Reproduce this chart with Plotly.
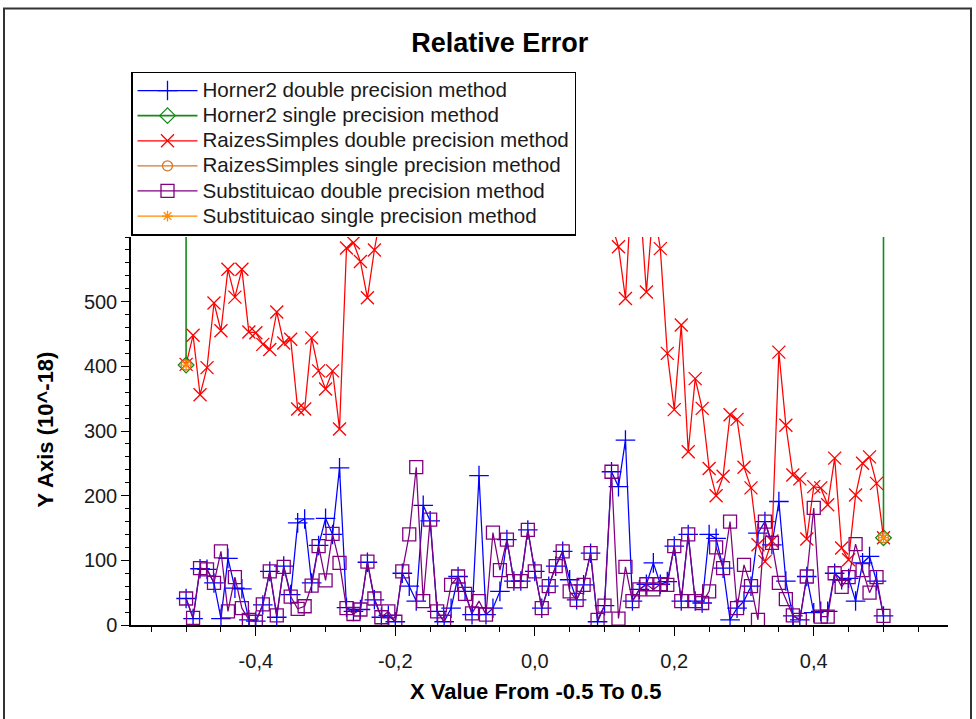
import plotly.graph_objects as go

# ---------------- data ----------------
x_values = [round(-0.5 + 0.01 * i, 2) for i in range(101)]

horner2_double = [41, 10, 87, 86, 65, 10, 103, 57, 56, 8,
                  6, 31, 83, 12, 91, 47, 158, 164, 65, 123,
                  165, 140, 243, 27, 21, 24, 97, 39, 12, 15,
                  5, 80, 60, 37, 185, 161, 21, 5, 26, 75,
                  52, 16, 231, 16, 26, 52, 132, 68, 68, 147,
                  83, 26, 60, 91, 114, 70, 39, 62, 111, 5,
                  30, 237, 214, 286, 37, 55, 63, 96, 63, 67,
                  122, 37, 140, 37, 34, 140, 134, 88, 8, 26,
                  37, 60, 142, 160, 124, 191, 68, 14, 8, 75,
                  19, 21, 21, 80, 70, 72, 37, 96, 106, 68, 14]

raizes_double = [403, 448, 356, 398, 498, 455, 550, 507, 550, 453,
                 452, 434, 426, 484, 436, 442, 334, 334, 444, 393,
                 365, 393, 303, 583, 591, 562, 506, 580, 640, 760,
                 820, 700, 880, 950, 780, 900, 1050, 870, 990, 1120,
                 960, 1080, 1200, 1010, 1150, 1280, 1090, 1230, 1350, 1170,
                 1300, 1220, 1100, 1250, 1030, 1140, 960, 1060, 880, 920,
                 760, 620, 585, 505, 700, 670, 515, 650, 582, 420,
                 333, 464, 268, 381, 335, 242, 200, 230, 325, 318,
                 244, 212, 124, 98, 130, 422, 309, 232, 226, 133,
                 214, 212, 186, 258, 119, 101, 201, 250, 260, 219, 135]

subst_double = [41, 11, 88, 86, 65, 114, 21, 74, 26, 8,
                5, 32, 83, 15, 90, 44, 25, 29, 61, 122,
                69, 141, 96, 26, 17, 24, 98, 41, 12, 21,
                5, 83, 140, 244, 37, 163, 21, 5, 62, 75,
                48, 18, 37, 16, 143, 85, 132, 68, 68, 147,
                83, 26, 60, 91, 114, 52, 39, 62, 111, 8,
                30, 237, 10, 90, 37, 55, 63, 55, 63, 62,
                122, 37, 140, 37, 34, 52, 120, 88, 160, 26,
                93, 60, 8, 160, 127, 65, 40, 15, 8, 75,
                181, 13, 13, 80, 59, 74, 125, 85, 50, 74, 14]

single_x = [-0.5, -0.49, 0.49, 0.5]
horner2_single = [402, 1.0e8, 1.0e8, 135]
raizes_single = [402, None, None, 135]
subst_single = [402, None, None, 135]

series_names = [
    "Horner2 double precision method",
    "Horner2 single precision method",
    "RaizesSimples double precision method",
    "RaizesSimples single precision method",
    "Substituicao double precision method",
    "Substituicao single precision method",
]

x_tick_vals = [-0.4, -0.2, 0.0, 0.2, 0.4]
x_tick_text = ["-0,4", "-0,2", "0,0", "0,2", "0,4"]
y_tick_vals = [0, 100, 200, 300, 400, 500]
y_tick_text = ["0", "100", "200", "300", "400", "500"]

X_RANGE = [-0.579, 0.5925]
Y_RANGE = [0, 600]

FONT = "Liberation Sans, Arial, sans-serif"

fig = go.Figure()

def add(name, xs, ys, color, symbol, size, mlw=1.3, lw=1.25):
    fig.add_trace(go.Scatter(
        x=xs, y=ys, name="<span style='font-size:20.6px'>" + name + "</span>",
        mode="lines+markers",
        line=dict(color=color, width=lw),
        marker=dict(symbol=symbol, size=size, color=color,
                    line=dict(color=color, width=mlw)),
        connectgaps=False,
    ))

add(series_names[0], x_values, horner2_double, "#0000ff", "cross-thin", 14)
add(series_names[1], single_x, horner2_single, "#168a16", "diamond-open", 12, lw=1.6)
add(series_names[2], x_values, raizes_double, "#ff0000", "x-thin", 13)
add(series_names[3], single_x, raizes_single, "#d2782d", "circle-open", 10)
add(series_names[4], x_values, subst_double, "#800080", "square-open", 13)
add(series_names[5], single_x, subst_single, "#ff8c00", "asterisk-open", 9)

axis_common = dict(showgrid=False, zeroline=False, linecolor="black", tickcolor="black")

fig.update_layout(
    width=976, height=719, autosize=False,
    margin=dict(l=131, r=28, t=237, b=94, pad=0),
    paper_bgcolor="white", plot_bgcolor="white",
    font=dict(family=FONT, size=20, color="#1a1a1a"),
    title=dict(text="Relative Error", x=0.512, xref="container", xanchor="center",
               y=1 - 43 / 719, yref="container", yanchor="middle",
               font=dict(family=FONT, size=27, color="black", weight="bold")),
    xaxis=dict(range=X_RANGE, tickmode="array", tickvals=x_tick_vals, ticktext=x_tick_text,
               ticks="outside", ticklen=9, tickwidth=1.3, showline=True, linewidth=1.5,
               minor=dict(ticks="outside", ticklen=5, dtick=0.05, tick0=0, tickcolor="black", tickwidth=1.2),
               tickfont=dict(size=20), ticklabelstandoff=8, **axis_common),
    xaxis2=dict(range=X_RANGE, overlaying="x", side="top", anchor="y", tickmode="array",
                tickvals=x_tick_vals, ticks="inside", ticklen=6, tickwidth=1.2, showticklabels=False,
                showline=True, linewidth=1.5,
                minor=dict(ticks="inside", ticklen=4, dtick=0.05, tick0=0, tickcolor="black", tickwidth=1.2),
                **axis_common),
    xaxis3=dict(range=X_RANGE, overlaying="x", side="bottom", anchor="y", tickmode="array",
                tickvals=x_tick_vals, ticks="inside", ticklen=5, tickwidth=1.3, showticklabels=False,
                showline=False,
                minor=dict(ticks="inside", ticklen=3, dtick=0.05, tick0=0, tickcolor="black", tickwidth=1.2),
                **axis_common),
    yaxis=dict(range=Y_RANGE, tickmode="array", tickvals=y_tick_vals, ticktext=y_tick_text,
               ticks="outside", ticklen=8, tickwidth=1.3, showline=True, linewidth=1.5,
               minor=dict(ticks="outside", ticklen=4, dtick=20, tick0=0, tickcolor="black", tickwidth=1.2),
               tickfont=dict(size=20), **axis_common),
    yaxis2=dict(range=Y_RANGE, overlaying="y", side="right", anchor="x", tickmode="array",
                tickvals=y_tick_vals, ticks="inside", ticklen=6, tickwidth=1.2, showticklabels=False,
                showline=True, linewidth=1.5,
                minor=dict(ticks="inside", ticklen=4, dtick=20, tick0=0, tickcolor="black", tickwidth=1.2),
                **axis_common),
    yaxis3=dict(range=Y_RANGE, overlaying="y", side="left", anchor="x", tickmode="array",
                tickvals=y_tick_vals, ticks="inside", ticklen=8, tickwidth=1.3, showticklabels=False,
                showline=False,
                minor=dict(ticks="inside", ticklen=4, dtick=20, tick0=0, tickcolor="black", tickwidth=1.2),
                **axis_common),
    legend=dict(x=0, xanchor="left", y=(625.5 - 72) / 388, yanchor="top",
                bgcolor="white", bordercolor="black", borderwidth=1.5,
                font=dict(family=FONT, size=17, color="#1a1a1a"),
                itemwidth=60, tracegroupgap=0, traceorder="normal"),
    showlegend=True,
    annotations=[
        dict(text="X Value From -0.5 To 0.5", xref="paper", yref="paper",
             x=(535 - 131) / 817, y=(625.5 - 692) / 388, showarrow=False,
             xanchor="center", yanchor="middle",
             font=dict(family=FONT, size=22, color="black", weight="bold")),
        dict(text="Y Axis (10^-18)", xref="paper", yref="paper",
             x=(45 - 131) / 817, y=(625.5 - 430) / 388, showarrow=False, textangle=-90,
             xanchor="center", yanchor="middle",
             font=dict(family=FONT, size=22, color="black", weight="bold")),
    ],
    shapes=[
        dict(type="rect", xref="paper", yref="paper",
             x0=(4 - 131) / 817, x1=(971 - 131) / 817,
             y0=(625.5 - 740) / 388, y1=(625.5 - 9) / 388,
             line=dict(color="#333333", width=2), fillcolor="rgba(0,0,0,0)", layer="below"),
    ],
)

fig.write_html("out.html")
